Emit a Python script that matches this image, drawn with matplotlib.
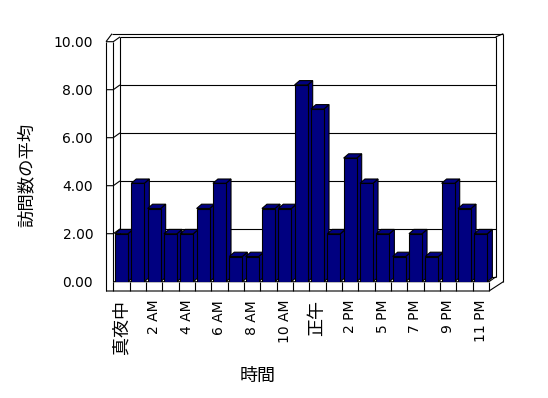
import matplotlib
matplotlib.use("Agg")
import matplotlib.pyplot as plt
from matplotlib.patches import Polygon

plt.rcParams['font.family'] = ['DejaVu Sans', 'Noto Sans CJK JP']

categories = ['真夜中', '1 AM', '2 AM', '3 AM', '4 AM', '5 AM', '6 AM', '7 AM',
              '8 AM', '9 AM', '10 AM', '11 AM', '正午', '1 PM', '2 PM', '4 PM',
              '5 PM', '6 PM', '7 PM', '8 PM', '9 PM', '10 PM', '11 PM']
values = [2.0, 4.1, 3.05, 2.0, 2.0, 3.05, 4.1, 1.05, 1.05, 3.05, 3.05, 8.2,
          7.2, 2.0, 5.15, 4.1, 2.0, 1.05, 2.0, 1.05, 4.1, 3.05, 2.0]
yticks = [0, 2, 4, 6, 8, 10]
ytick_labels = ['0.00', '2.00', '4.00', '6.00', '8.00', '10.00']
ylabel = '訪問数の平均'
xlabel = '時間'

W, H = 548, 398
fig = plt.figure(figsize=(W / 100, H / 100), dpi=100)
fig.patch.set_facecolor('white')

# front plane of the 3D box, in pixels
L, R, B, T = 113.3, 489.0, 281.7, 41.7
ax = fig.add_axes([L / W, 1 - B / H, (R - L) / W, (B - T) / H])
n = len(values)
x0, x1 = -0.5, n - 0.5
ymax = 10
ax.set_xlim(x0, x1)
ax.set_ylim(0, ymax)
for s in ax.spines.values():
    s.set_visible(False)
ax.set_facecolor('none')

pxx = (x1 - x0) / (R - L)   # data units per pixel (x)
pxy = ymax / (B - T)        # data units per pixel (y)
DX, DY = 6.7 * pxx, 4.8 * pxy       # wall depth
WT = 7.3 * pxx                       # left wall thickness
FT = 9.3 * pxy                       # floor thickness
ROUT = 14.3 * pxx                    # outer right edge offset
TOUT = 8.0 * pxy                     # outer top edge offset
lw = 0.8
k = dict(color='black', lw=lw, clip_on=False, solid_capstyle='butt')

# back wall gridlines
for v in yticks:
    ax.plot([x0 + DX, x1 + DX], [v + DY, v + DY], zorder=1, **k)
# left wall gridlines
for v in yticks[1:]:
    ax.plot([x0 - WT, x0, x0 + DX], [v, v, v + DY], zorder=1, **k)
# left wall verticals
ax.plot([x0 - WT, x0 - WT], [-FT, ymax], zorder=1, **k)
ax.plot([x0, x0], [0, ymax], zorder=1, **k)
ax.plot([x0 + DX, x0 + DX], [DY, ymax + DY], zorder=1, **k)
# top edges
ax.plot([x0 - WT, x0 - WT + DX * 0.9], [ymax, ymax + TOUT], zorder=1, **k)
ax.plot([x0 - WT + DX * 0.9, x1 + ROUT], [ymax + TOUT, ymax + TOUT], zorder=1, **k)
ax.plot([x1 + ROUT, x1 + ROUT], [ymax + TOUT, 0], zorder=1, **k)
ax.plot([x1 + DX, x1 + DX], [ymax + DY, DY], zorder=1, **k)
ax.plot([x1 + DX, x1 + ROUT], [ymax + DY, ymax + TOUT], zorder=1, **k)
# floor
ax.plot([x0 - WT, x1, x1 + ROUT], [-FT, -FT, 0], zorder=1, **k)
ax.plot([x0, x1, x1 + DX], [0, 0, DY], zorder=1, **k)
for i in range(n + 1):
    ax.plot([x0 + i, x0 + i], [0, -FT], zorder=1, **k)

# bars with 3D faces
navy = '#000080'
bw = 0.8
bdx, bdy = 5.0 * pxx, 4.3 * pxy
xs = list(range(n))
bars = ax.bar(xs, values, width=bw, color=navy, edgecolor='black',
              linewidth=lw, zorder=10)
for i, (rect, v) in enumerate(zip(bars, values)):
    xl = rect.get_x()
    xr = xl + rect.get_width()
    rect.set_zorder(10 + 2 * i + 1)
    top = Polygon([(xl, v), (xl + bdx, v + bdy), (xr + bdx, v + bdy), (xr, v)],
                  closed=True, facecolor=navy, edgecolor='black', lw=lw,
                  zorder=10 + 2 * i, clip_on=False)
    side = Polygon([(xr, 0), (xr, v), (xr + bdx, v + bdy), (xr + bdx, bdy)],
                   closed=True, facecolor=navy, edgecolor='black', lw=lw,
                   zorder=10 + 2 * i, clip_on=False)
    ax.add_patch(side)
    ax.add_patch(top)

# ticks
ax.set_yticks(yticks)
ax.set_yticklabels(ytick_labels, fontsize=10)
ax.tick_params(axis='y', length=0, pad=14.5)
ax.set_xticks(xs[::2])
ax.set_xticklabels(categories[::2], rotation=90, fontsize=10, va='top', ha='center')
ax.tick_params(axis='x', length=0, pad=13)
for t in ax.get_xticklabels():
    if any(ord(c) > 0x3000 for c in t.get_text()):
        t.set_fontsize(13)

ax.set_ylabel(ylabel, fontsize=12.5)
ax.yaxis.set_label_coords((27 - L) / (R - L), (B - 175) / (B - T))
ax.yaxis.label.set(va='center', ha='center', rotation_mode='default')
ax.set_xlabel(xlabel, fontsize=13)
ax.xaxis.set_label_coords((258 - L) / (R - L), (B - 376) / (B - T))
ax.xaxis.label.set(va='center', ha='center')

fig.savefig('out.png', dpi=100)
